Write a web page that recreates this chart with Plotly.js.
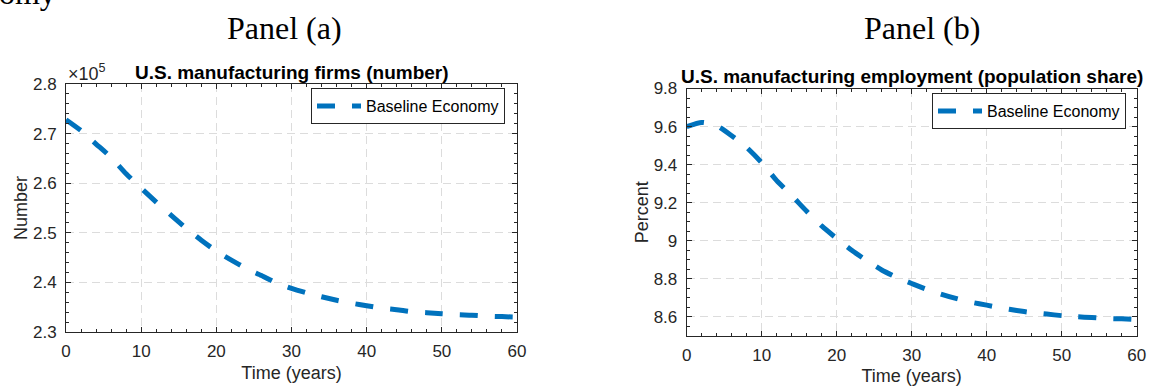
<!DOCTYPE html>
<html>
<head>
<meta charset="utf-8">
<script src="https://cdn.plot.ly/plotly-3.0.1.min.js"></script>
<style>html,body{margin:0;padding:0;background:#fff;}#chart{width:1150px;height:386px;}</style>
</head>
<body>
<div id="chart"></div>
<script>
// ---- Data ----
const timeYears = [0, 2, 4, 6, 8, 10, 12, 14, 16, 18, 20, 22, 24, 26, 28, 30,
                   32, 34, 36, 38, 40, 42, 44, 46, 48, 50, 52, 54, 56, 58, 60];
// Panel (a): U.S. manufacturing firms (number)
const firmsNumber = [272800, 270600, 267900, 265200, 261900, 259000, 256200, 253500,
                     250900, 248500, 246300, 244500, 242800, 241400, 239900, 238800,
                     237900, 237100, 236400, 235800, 235300, 234800, 234500, 234100,
                     233900, 233700, 233500, 233400, 233200, 233100, 233000];
// Panel (b): U.S. manufacturing employment (population share, percent)
const employmentShare = [9.600, 9.622, 9.605, 9.552, 9.490, 9.410, 9.316, 9.238,
                         9.155, 9.078, 9.012, 8.950, 8.896, 8.847, 8.808, 8.776,
                         8.745, 8.719, 8.696, 8.677, 8.662, 8.647, 8.634, 8.623,
                         8.615, 8.607, 8.601, 8.597, 8.592, 8.590, 8.586];
const seriesName = 'Baseline Economy';
const xTickVals = [0, 10, 20, 30, 40, 50, 60];
const firmsTickVals = [230000, 240000, 250000, 260000, 270000, 280000];
const firmsTickText = ['2.3', '2.4', '2.5', '2.6', '2.7', '2.8'];
const shareTickVals = [8.6, 8.8, 9, 9.2, 9.4, 9.6, 9.8];
const shareTickText = ['8.6', '8.8', '9', '9.2', '9.4', '9.6', '9.8'];

// ---- Layout helpers ----
const W = 1150, H = 386;
const px = v => v / W;
const py = v => 1 - v / H;
const SANS = 'Liberation Sans, Arial, Helvetica, sans-serif';
const SERIF = 'Liberation Serif, Times New Roman, serif';
const AX = '#262626';
const lineStyle = {color: '#0072BD', width: 5, dash: '18px,17px', shape: 'spline', smoothing: 0.6};

const traces = [
  {x: timeYears, y: firmsNumber, xaxis: 'x', yaxis: 'y', type: 'scatter', mode: 'lines',
   name: seriesName, line: lineStyle, legend: 'legend', hoverinfo: 'skip'},
  {x: timeYears, y: employmentShare, xaxis: 'x2', yaxis: 'y2', type: 'scatter', mode: 'lines',
   name: seriesName, line: lineStyle, legend: 'legend2', hoverinfo: 'skip'}
];

function baseAxis(extra) {
  return Object.assign({
    showline: true, linecolor: AX, linewidth: 1, mirror: 'ticks',
    ticks: 'inside', ticklen: 5, tickcolor: AX, tickwidth: 1,
    showgrid: true, gridcolor: '#dcdcdc', gridwidth: 1, griddash: '8px,5px',
    zeroline: false, automargin: false, fixedrange: true,
    tickfont: {family: SANS, size: 17, color: AX}
  }, extra);
}
const titleFont = {family: SANS, size: 18, color: AX};

const legendBase = {
  bordercolor: AX, borderwidth: 1, bgcolor: '#ffffff',
  font: {family: SANS, size: 16, color: '#000'},
  itemwidth: 44, xanchor: 'right', yanchor: 'top', tracegroupgap: 0
};

const layout = {
  width: W, height: H,
  margin: {l: 0, r: 0, t: 0, b: 0},
  paper_bgcolor: '#ffffff', plot_bgcolor: '#ffffff',
  showlegend: true,
  xaxis: baseAxis({domain: [px(66), px(517)], anchor: 'y', range: [0, 60], tickvals: xTickVals,
    ticklabelstandoff: 4,
    minor: {dtick: 2, ticks: 'inside', ticklen: 3, tickcolor: AX, showgrid: false},
    title: {text: 'Time (years)', font: titleFont, standoff: 5}}),
  yaxis: baseAxis({domain: [py(332), py(84)], anchor: 'x', range: [230000, 280000],
    tickvals: firmsTickVals, ticktext: firmsTickText, ticklabelstandoff: 5,
    minor: {dtick: 2000, ticks: 'inside', ticklen: 3, tickcolor: AX, showgrid: false},
    title: {text: 'Number', font: titleFont, standoff: 0}}),
  xaxis2: baseAxis({domain: [px(686.7), px(1136.7)], anchor: 'y2', range: [0, 60], tickvals: xTickVals,
    ticklabelstandoff: 4,
    minor: {dtick: 2, ticks: 'inside', ticklen: 3, tickcolor: AX, showgrid: false},
    title: {text: 'Time (years)', font: titleFont, standoff: 8}}),
  yaxis2: baseAxis({domain: [py(336), py(88.5)], anchor: 'x2', range: [8.5, 9.8],
    tickvals: shareTickVals, ticktext: shareTickText, ticklabelstandoff: 5,
    minor: {dtick: 0.05, ticks: 'inside', ticklen: 3, tickcolor: AX, showgrid: false},
    title: {text: 'Percent', font: titleFont, standoff: 0}}),
  legend: Object.assign({}, legendBase, {x: px(505), y: py(88)}),
  legend2: Object.assign({}, legendBase, {x: px(1126), y: py(93)}),
  annotations: [
    {text: 'Baseline Economy', xref: 'paper', yref: 'paper', x: px(58), y: py(13),
     xanchor: 'right', yanchor: 'bottom', showarrow: false,
     font: {family: SERIF, size: 32, color: '#000'}},
    {text: 'Panel (a)', xref: 'paper', yref: 'paper', x: px(284), y: py(28),
     xanchor: 'center', yanchor: 'middle', showarrow: false,
     font: {family: SERIF, size: 32, color: '#000'}},
    {text: 'Panel (b)', xref: 'paper', yref: 'paper', x: px(922), y: py(28),
     xanchor: 'center', yanchor: 'middle', showarrow: false,
     font: {family: SERIF, size: 32, color: '#000'}},
    {text: '<b>U.S. manufacturing firms (number)</b>', xref: 'paper', yref: 'paper',
     x: px(292), y: py(72), xanchor: 'center', yanchor: 'middle', showarrow: false,
     font: {family: SANS, size: 19, color: '#000'}},
    {text: '<b>U.S. manufacturing employment (population share)</b>', xref: 'paper', yref: 'paper',
     x: px(912), y: py(76), xanchor: 'center', yanchor: 'middle', showarrow: false,
     font: {family: SANS, size: 19, color: '#000'}},
    {text: '×10<sup>5</sup>', xref: 'paper', yref: 'paper', x: px(66), y: py(72),
     xanchor: 'left', yanchor: 'middle', showarrow: false,
     font: {family: SANS, size: 18, color: AX}}
  ]
};

Plotly.newPlot('chart', traces, layout, {displayModeBar: false, staticPlot: true});
</script>
</body>
</html>
